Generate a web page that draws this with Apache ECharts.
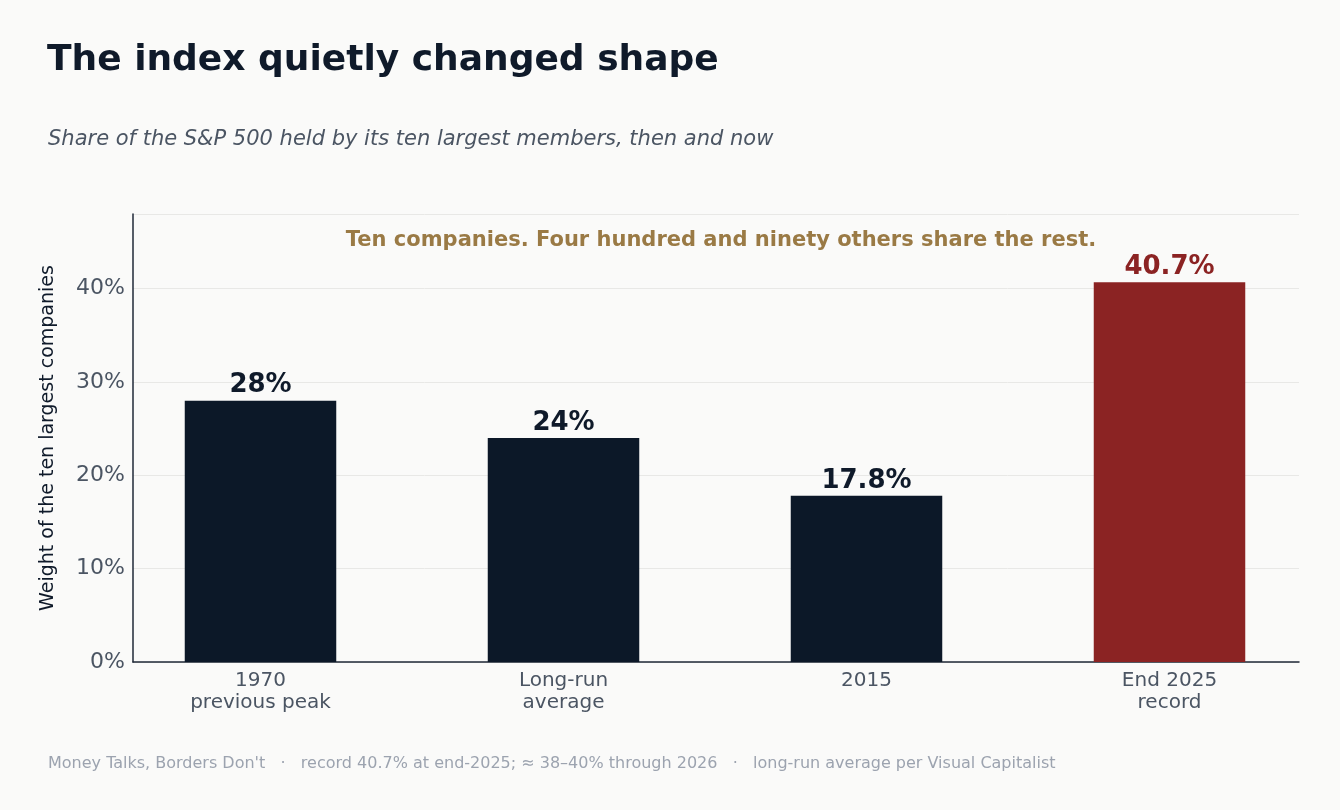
<!DOCTYPE html>
<html><head><meta charset="utf-8">
<script src="https://cdn.jsdelivr.net/npm/echarts@6/dist/echarts.min.js"></script>
<style>html,body{margin:0;background:#fafaf9}#c{width:1340px;height:810px}</style>
</head><body><div id="c"></div>
<script>
const categories = ["1970\nprevious peak", "Long-run\naverage", "2015", "End 2025\nrecord"];
const values = [28, 24, 17.8, 40.7];
const valueLabels = ["28%", "24%", "17.8%", "40.7%"];
const highlight = [false, false, false, true];
const yTicks = [0, 10, 20, 30, 40];
const F = "'DejaVu Sans', sans-serif";
const chart = echarts.init(document.getElementById('c'));
chart.setOption({
  backgroundColor: '#fafaf9',
  animation: false,
  title: [
    {text: 'The index quietly changed shape', left: 42, top: 38,
     textStyle: {fontFamily: F, fontSize: 36, fontWeight: 'bold', color: '#0f1a2a'}},
    {text: 'Share of the S&P 500 held by its ten largest members, then and now', left: 43, top: 124,
     textStyle: {fontFamily: F, fontSize: 21, fontStyle: 'italic', fontWeight: 'normal', color: '#4b5563'}},
    {text: 'Ten companies. Four hundred and ninety others share the rest.', left: 716, top: 225, textAlign: 'center',
     textStyle: {fontFamily: F, fontSize: 21, fontWeight: 'bold', color: '#9a7a45'}},
    {text: "Money Talks, Borders Don't   ·   record 40.7% at end-2025; ≈ 38–40% through 2026   ·   long-run average per Visual Capitalist",
     left: 43, top: 751, textStyle: {fontFamily: F, fontSize: 16, fontWeight: 'normal', color: '#9ca3af'}}
  ],
  grid: [
    {left: 133, right: 41, top: 214, bottom: 148},
    {left: 109, right: 19, top: 214, bottom: 148}
  ],
  xAxis: [
    {type: 'value', gridIndex: 0, min: 0, max: 1, axisLabel: {show: false}, splitLine: {show: false},
     axisTick: {show: false}, axisLine: {show: true, lineStyle: {color: '#1f2937', width: 1.5}}},
    {type: 'category', gridIndex: 1, data: categories,
     axisLine: {show: false}, axisTick: {show: false},
     axisLabel: {fontFamily: F, fontSize: 20, color: '#4b5563', lineHeight: 22, margin: 8}}
  ],
  yAxis: [
    {type: 'value', gridIndex: 0, min: 0, max: 48, interval: 10,
     name: 'Weight of the ten largest companies', nameLocation: 'middle', nameGap: 75,
     nameTextStyle: {fontFamily: F, fontSize: 19, color: '#0f1a2a'},
     axisLine: {show: true, lineStyle: {color: '#1f2937', width: 1.5}}, axisTick: {show: false},
     axisLabel: {fontFamily: F, fontSize: 22, color: '#4b5563', margin: 8,
       formatter: v => yTicks.includes(v) ? v + '%' : ''},
     splitLine: {lineStyle: {color: '#e8e8e6'}}},
    {type: 'value', gridIndex: 1, min: 0, max: 48, interval: 10, show: false}
  ],
  series: [{type: 'bar', xAxisIndex: 1, yAxisIndex: 1, barWidth: '50%',
    data: values.map((v, i) => ({value: v,
      itemStyle: {color: highlight[i] ? '#8b2323' : '#0c1828'},
      label: {show: true, position: 'top', distance: 2, formatter: valueLabels[i],
        fontFamily: F, fontSize: 26, fontWeight: 'bold', color: highlight[i] ? '#8b2323' : '#0f1a2a'}}))}]
});
</script></body></html>
